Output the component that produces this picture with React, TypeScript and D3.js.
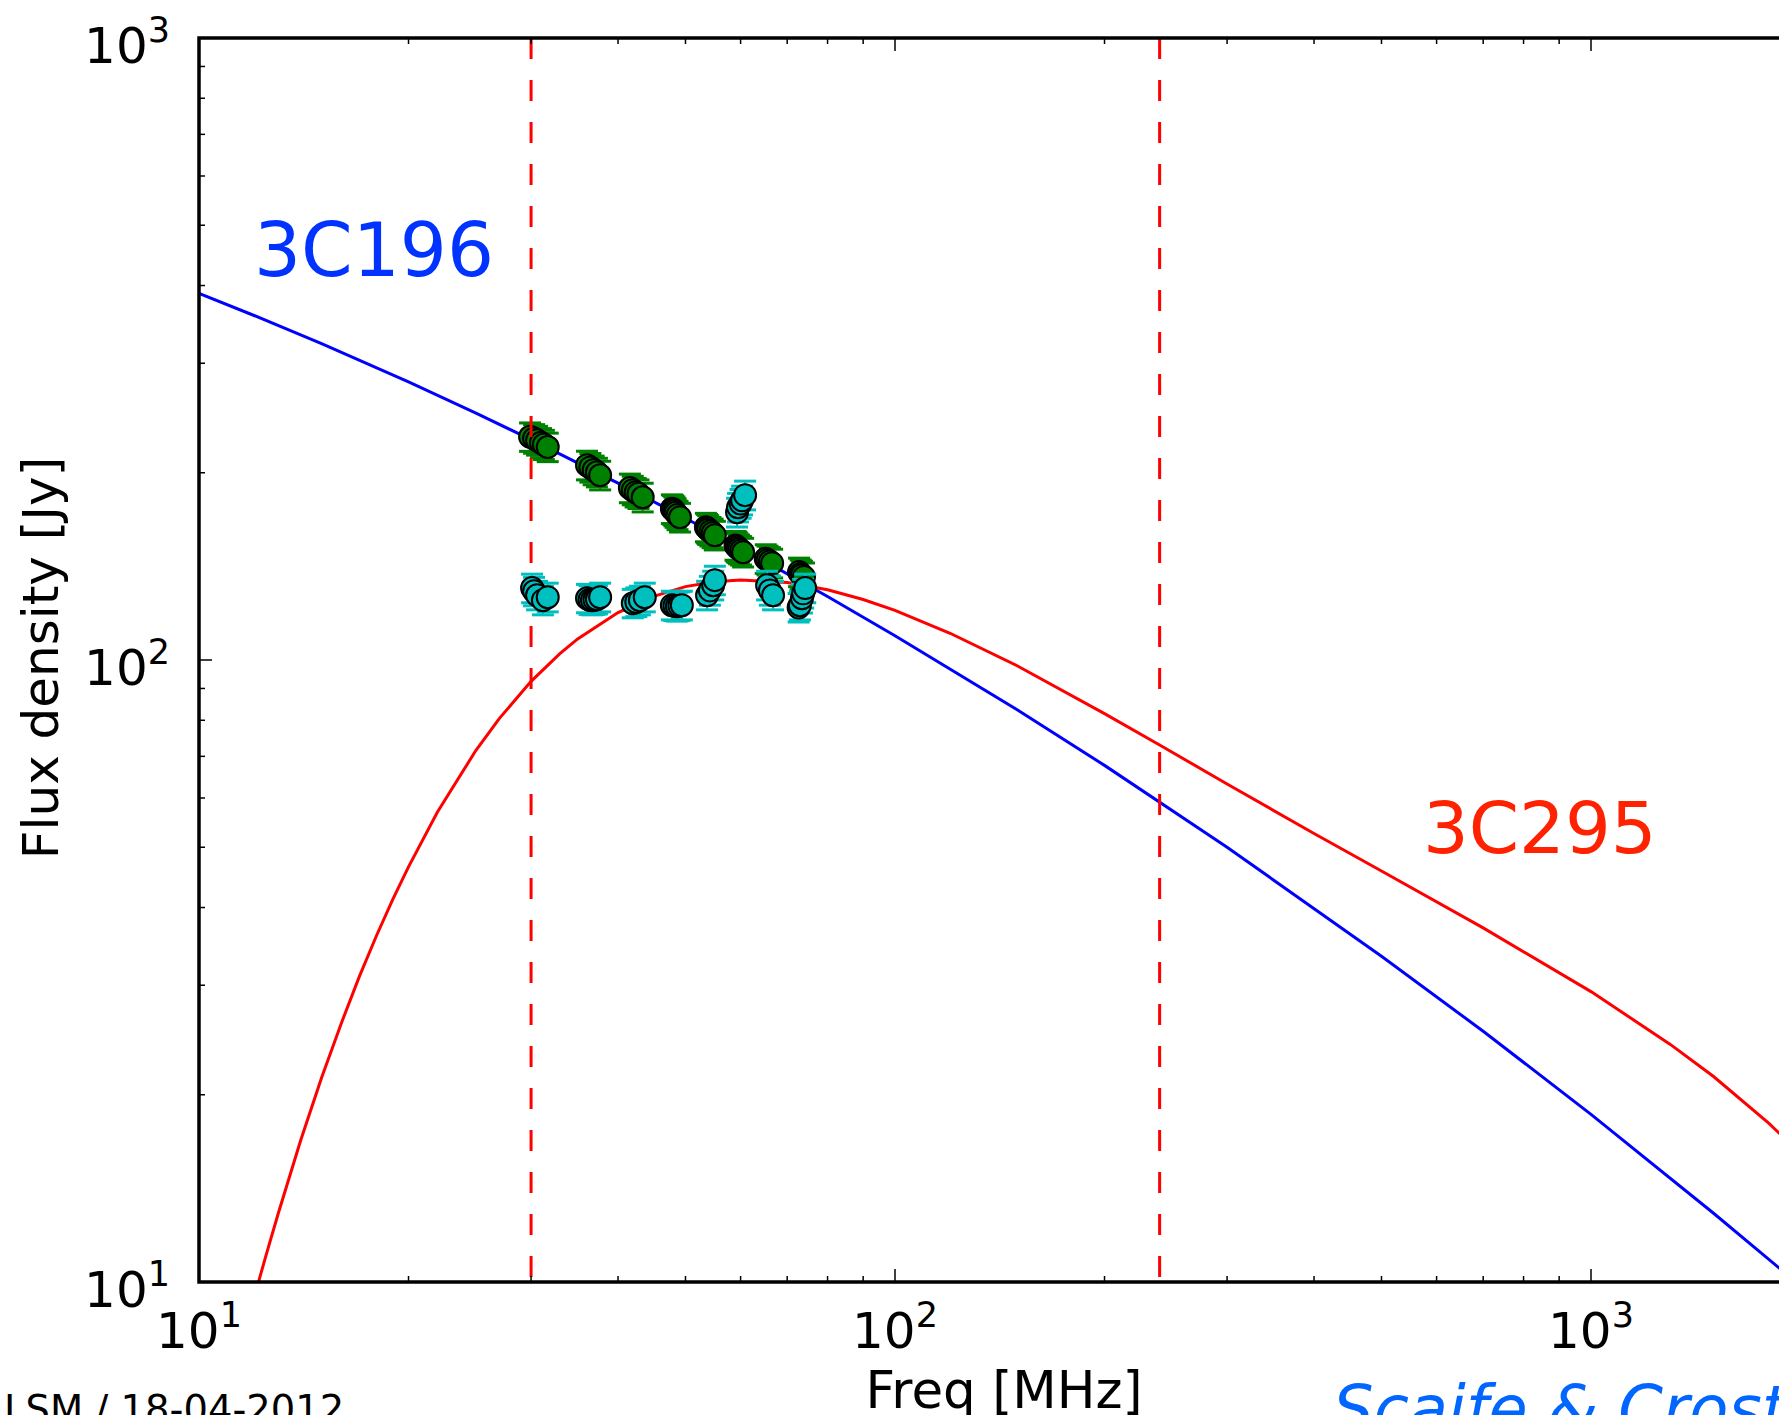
import * as d3 from "d3";

// model curves (MHz, Jy)
const freq3C196Model = [10, 12, 15, 20, 25, 30, 40, 50, 60, 80, 100, 150, 200, 300, 500, 700, 1000, 1500, 2000, 3000];
const flux3C196Model = [388.6, 358.0, 322.5, 279.9, 249.4, 226.1, 192.5, 169.0, 151.5, 126.5, 109.4, 83.1, 67.7, 50.0, 33.4, 25.3, 18.6, 12.9, 9.86, 6.67];

const freq3C295Model = [10, 11, 12, 12.5, 13, 14, 15, 16, 17, 18, 19, 20, 22, 25, 27, 30, 33, 35, 40, 45, 50, 55, 60, 70, 80, 90, 100, 120, 150, 200, 240, 300, 400, 500, 700, 1000, 1300, 1500, 1800, 2000, 2500, 3000];
const flux3C295Model = [4.16, 6.51, 9.44, 11.1, 12.9, 16.9, 21.3, 26.0, 31.0, 36.1, 41.3, 46.5, 56.9, 71.6, 80.5, 92.4, 102.4, 108.1, 119.2, 126.6, 131.2, 133.6, 134.5, 133.2, 129.7, 125.1, 120.2, 110.4, 97.8, 82.0, 73.0, 63.2, 52.6, 45.8, 37.1, 29.3, 24.1, 21.4, 18.0, 16.1, 12.3, 9.38];

// measured points [freq, flux, error]
const measured3C196: [number, number, number][] = [
	[29.9, 228.5, 12], [30.3, 227, 12], [30.6, 225.5, 12], [31.0, 223.5, 12], [31.3, 222, 12], [31.7, 220, 11.6],
	[36.1, 205.7, 10.9], [36.5, 204, 10.8], [36.9, 202, 10.7], [37.3, 200.4, 10.6], [37.7, 198.2, 10.5],
	[41.6, 189, 10], [42.0, 187.5, 9.9], [42.4, 186, 9.8], [42.8, 185, 9.8], [43.4, 182.7, 9.7],
	[47.8, 175, 9.3], [48.0, 174.5, 9.2], [48.2, 173.6, 9.2], [48.4, 172.5, 9.1], [48.7, 171, 9], [49.1, 169.6, 9],
	[53.5, 163.5, 8.6], [53.7, 162.8, 8.6], [53.9, 162, 8.6], [54.3, 161, 8.5], [54.7, 160, 8.5], [55.1, 158.7, 8.4],
	[59.0, 152.8, 8.1], [59.2, 152.2, 8.1], [59.4, 151.5, 8], [59.7, 150.8, 8], [60.1, 150, 7.9], [60.5, 149, 7.9],
	[65.2, 145.5, 7.7], [65.6, 144.7, 7.7], [66.1, 144, 7.6], [66.6, 143.1, 7.6],
	[72.8, 138.5, 7.3], [73.2, 137.5, 7.3], [73.5, 136.9, 7.2], [74.0, 136, 7.2]
];

const measured3C295: [number, number, number][] = [
	[30.1, 130.5, 6.9], [30.3, 129, 6.8], [30.6, 127.1, 6.7], [31.2, 124.8, 6.6], [31.7, 126.2, 6.7],
	[36.1, 125.7, 6.6], [36.4, 125, 6.6], [36.7, 124.8, 6.6], [37.0, 125, 6.6], [37.3, 125.2, 6.6], [37.7, 126.2, 6.7],
	[42.0, 123.4, 6.5], [42.5, 124, 6.6], [43.0, 124.8, 6.6], [43.7, 126.2, 6.7],
	[47.8, 122.5, 6.5], [48.2, 122.2, 6.5], [48.6, 122, 6.5], [49.0, 122.2, 6.5], [49.4, 122.5, 6.5],
	[53.7, 127.1, 6.7], [54.2, 129.4, 6.9], [54.8, 131.9, 7], [55.1, 134.4, 7.1],
	[59.3, 172.8, 9.2], [59.5, 176, 9.3], [60.0, 178.5, 9.5], [60.3, 180.7, 9.6], [60.9, 184.1, 9.8],
	[65.5, 131.9, 7], [66.1, 129.4, 6.9], [66.8, 127.1, 6.7],
	[72.7, 121.5, 6.4], [73.0, 122.5, 6.5], [73.5, 125.7, 6.7], [73.8, 128, 6.8], [74.3, 130.5, 6.9]
];

const cutoffFreqs = [30, 240];
const xTickLabels = [
	{ value: 10, exp: "1" },
	{ value: 100, exp: "2" },
	{ value: 1000, exp: "3" }
];
const yTickLabels = [
	{ value: 10, exp: "1" },
	{ value: 100, exp: "2" },
	{ value: 1000, exp: "3" }
];

const W = 1779;
const H = 1415;
const plot = { left: 199, top: 38, right: 2287, bottom: 1282 };

const x = d3.scaleLog().domain([10, 10000]).range([plot.left, plot.right]);
const y = d3.scaleLog().domain([10, 1000]).range([plot.bottom, plot.top]);

const isDecade = (v: number) => Math.abs(Math.log10(v) - Math.round(Math.log10(v))) < 1e-9;

function Series({ data, color }: { data: [number, number, number][]; color: string }) {
	const cap = 11;
	return (
		<g>
			{data.map((d, i) => (
				<line key={"v" + i} x1={x(d[0])} x2={x(d[0])} y1={y(d[1] - d[2])} y2={y(d[1] + d[2])} stroke={color} strokeWidth={2} />
			))}
			{data.map((d, i) => (
				<g key={"c" + i} stroke={color} strokeWidth={3}>
					<line x1={x(d[0]) - cap} x2={x(d[0]) + cap} y1={y(d[1] + d[2])} y2={y(d[1] + d[2])} />
					<line x1={x(d[0]) - cap} x2={x(d[0]) + cap} y1={y(d[1] - d[2])} y2={y(d[1] - d[2])} />
				</g>
			))}
			{data.map((d, i) => (
				<circle key={"m" + i} cx={x(d[0])} cy={y(d[1])} r={11} fill={color} stroke="#000" strokeWidth={2} />
			))}
		</g>
	);
}

export default function App() {
	const line = d3.line<number[]>().x(d => x(d[0])).y(d => y(d[1]));
	const model196 = freq3C196Model.map((f, i) => [f, flux3C196Model[i]]);
	const model295 = freq3C295Model.map((f, i) => [f, flux3C295Model[i]]);

	const xTicks = x.ticks();
	const yTicks = y.ticks();

	return (
		<>
			<style>{"body{margin:0}"}</style>
			<svg width={W} height={H} style={{ display: "block", fontFamily: "'DejaVu Sans', sans-serif" }}>
				<rect width={W} height={H} fill="#fff" />
				<defs>
					<clipPath id="plot-clip">
						<rect x={plot.left} y={plot.top} width={plot.right - plot.left} height={plot.bottom - plot.top} />
					</clipPath>
				</defs>

				<g clipPath="url(#plot-clip)">
					<path d={line(model196) || ""} fill="none" stroke="#0000ff" strokeWidth={3} />
					<path d={line(model295) || ""} fill="none" stroke="#ff0000" strokeWidth={3} />
					<Series data={measured3C196} color="#008000" />
					{cutoffFreqs.map(f => (
						<line key={f} x1={x(f)} x2={x(f)} y1={plot.top} y2={plot.bottom} stroke="#ff0000" strokeWidth={3} strokeDasharray="21 21" />
					))}
					<Series data={measured3C295} color="#00bfbf" />
				</g>

				{/* ticks, inward */}
				<g stroke="#000" strokeWidth={1.5}>
					{xTicks.map((t, i) => {
						const len = isDecade(t) ? 13 : 6;
						return (
							<g key={"xt" + i}>
								<line x1={x(t)} x2={x(t)} y1={plot.bottom} y2={plot.bottom - len} />
								<line x1={x(t)} x2={x(t)} y1={plot.top} y2={plot.top + len} />
							</g>
						);
					})}
					{yTicks.map((t, i) => {
						const len = isDecade(t) ? 13 : 6;
						return (
							<g key={"yt" + i}>
								<line x1={plot.left} x2={plot.left + len} y1={y(t)} y2={y(t)} />
								<line x1={plot.right} x2={plot.right - len} y1={y(t)} y2={y(t)} />
							</g>
						);
					})}
				</g>

				<rect x={plot.left} y={plot.top} width={plot.right - plot.left} height={plot.bottom - plot.top} fill="none" stroke="#000" strokeWidth={3.5} />

				{/* tick labels */}
				<g fontSize={50} fill="#000">
					{xTickLabels.map(t => (
						<text key={"xl" + t.exp} x={x(t.value)} y={plot.bottom + 66} textAnchor="middle">
							10<tspan dy={-21} fontSize={35}>{t.exp}</tspan>
						</text>
					))}
					{yTickLabels.map(t => (
						<text key={"yl" + t.exp} x={170} y={y(t.value) + 25} textAnchor="end">
							10<tspan dy={-21} fontSize={35}>{t.exp}</tspan>
						</text>
					))}
				</g>

				<text x={1004} y={1408} fontSize={51.5} textAnchor="middle">Freq [MHz]</text>
				<text transform="translate(58,658) rotate(-90)" fontSize={50} textAnchor="middle">Flux density [Jy]</text>

				<text x={254} y={276} fontSize={74} fill="#0033ff">3C196</text>
				<text x={1423} y={853} fontSize={72} fill="#ff2200">3C295</text>

				<text x={4} y={1423} fontSize={38.5}>LSM / 18-04-2012</text>
				<text x={1333} y={1431} fontSize={64} fontStyle="italic" fill="#0066ff">Scaife &amp; Crost</text>
			</svg>
		</>
	);
}
